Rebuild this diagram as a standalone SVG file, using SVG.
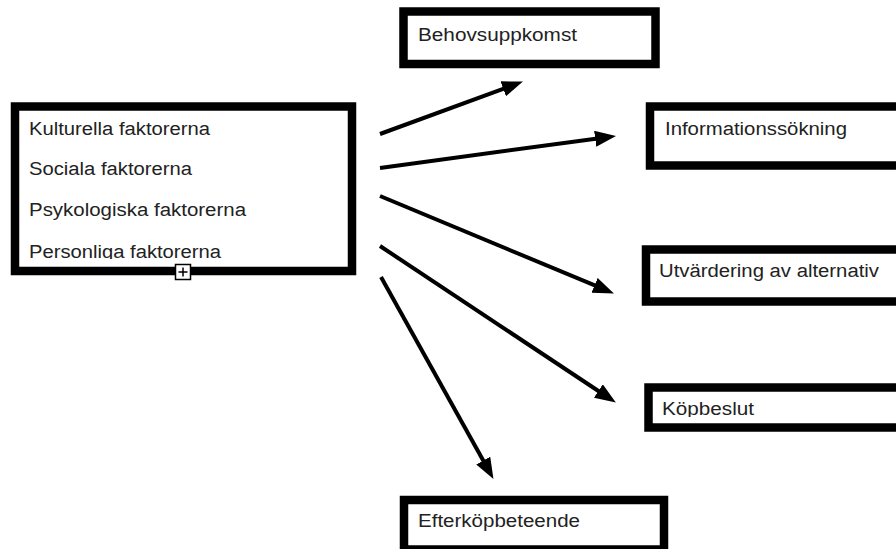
<svg xmlns="http://www.w3.org/2000/svg" width="896" height="549" viewBox="0 0 896 549">
<style>
.box{fill:#fff;stroke:#000;stroke-width:8.5}
.t{font-family:"Liberation Sans",Arial,Helvetica,sans-serif;font-size:18px;fill:#222}
.c{stroke:#000;stroke-width:4;fill:none;marker-end:url(#ah)}
</style>
<defs>
<marker id="ah" markerUnits="userSpaceOnUse" markerWidth="22" markerHeight="18" refX="10" refY="8" orient="auto" viewBox="0 0 22 18">
<path d="M0,0 L21,8 L0,16 z" fill="#000"/>
</marker>
<clipPath id="clipL"><rect x="0" y="0" width="896" height="259"/></clipPath>
<clipPath id="clipK"><rect x="0" y="0" width="896" height="417"/></clipPath>
</defs>
<rect width="896" height="549" fill="#fff"/>
<g id="factors">
<rect class="box" x="15" y="106.5" width="337" height="164.5"/>
<text class="t" x="29" y="135" textLength="181" lengthAdjust="spacingAndGlyphs">Kulturella faktorerna</text>
<text class="t" x="29" y="175" textLength="163" lengthAdjust="spacingAndGlyphs">Sociala faktorerna</text>
<text class="t" x="29" y="216" textLength="217" lengthAdjust="spacingAndGlyphs">Psykologiska faktorerna</text>
<text class="t" x="29" y="258" textLength="192" lengthAdjust="spacingAndGlyphs" clip-path="url(#clipL)">Personliga faktorerna</text>
<rect x="175.5" y="264.5" width="15" height="15" fill="#fff" stroke="#000" stroke-width="1.5"/>
<path d="M183,267.5 V276.5 M178.5,272 H187.5" stroke="#000" stroke-width="1.5"/>
</g>
<g id="behovsuppkomst">
<rect class="box" x="403.5" y="11.5" width="252" height="52.5"/>
<text class="t" x="418" y="41" textLength="159" lengthAdjust="spacingAndGlyphs">Behovsuppkomst</text>
</g>
<g id="informationssokning">
<rect class="box" x="650" y="106.5" width="260" height="59"/>
<text class="t" x="665" y="135" textLength="182" lengthAdjust="spacingAndGlyphs">Informationssökning</text>
</g>
<g id="utvardering">
<rect class="box" x="646" y="249.5" width="260" height="52"/>
<text class="t" x="659" y="277" textLength="220" lengthAdjust="spacingAndGlyphs">Utvärdering av alternativ</text>
</g>
<g id="kopbeslut">
<rect class="box" x="648.5" y="387.5" width="260" height="40"/>
<text class="t" x="662" y="415" textLength="92" lengthAdjust="spacingAndGlyphs" clip-path="url(#clipK)">Köpbeslut</text>
</g>
<g id="efterkopbeteende">
<rect class="box" x="404" y="500" width="260" height="49.5"/>
<text class="t" x="418" y="527" textLength="162" lengthAdjust="spacingAndGlyphs">Efterköpbeteende</text>
</g>
<g id="connectors">
<line class="c" x1="380" y1="134" x2="512.6" y2="85.4"/>
<line class="c" x1="380" y1="168" x2="605.1" y2="137.4"/>
<line class="c" x1="380" y1="196" x2="603.8" y2="289.2"/>
<line class="c" x1="380" y1="246" x2="606.7" y2="396.5"/>
<line class="c" x1="381" y1="277" x2="488.1" y2="469.3"/>
</g>
</svg>
